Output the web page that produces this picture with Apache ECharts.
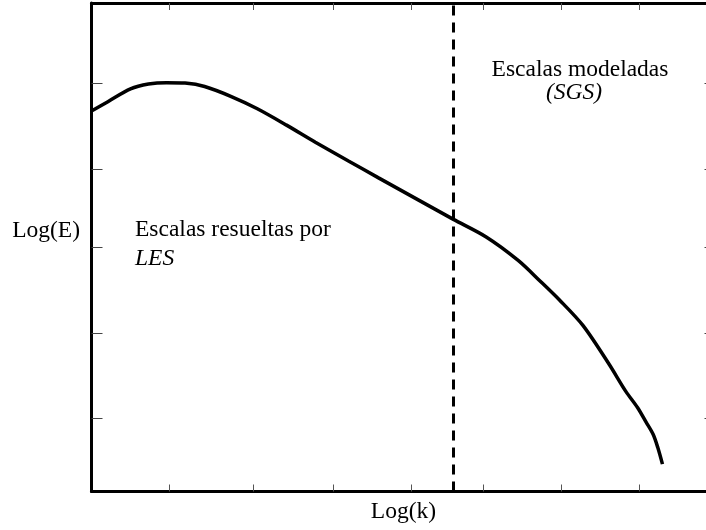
<!DOCTYPE html>
<html>
<head>
<meta charset="utf-8">
<title>Espectro de energía LES</title>
<script src="https://cdn.jsdelivr.net/npm/echarts@6/dist/echarts.min.js"></script>
<style>
  html, body { margin: 0; padding: 0; background: #fff; overflow: hidden; }
  /* the right-hand frame sits just past the visible edge */
  #chart { width: 716px; height: 530px; }
</style>
</head>
<body>
<div id="chart"></div>
<script>
// Energy spectrum in arbitrary log units: log(k) on x, log(E) on y
const logK = [0, 0.21, 0.5, 0.73, 0.96, 1.2, 1.45, 1.8, 2.12, 2.5, 2.87, 3.3, 3.68, 4.2, 4.64,
              5.06, 5.47, 5.75, 6.0, 6.3, 6.63, 6.85, 7.0, 7.11, 7.2, 7.26, 7.32];
const logE = [7.79, 7.98, 8.24, 8.34, 8.37, 8.36, 8.29, 8.08, 7.84, 7.5, 7.15, 6.76, 6.42, 5.96, 5.57,
              5.21, 4.73, 4.31, 3.92, 3.4, 2.62, 2.05, 1.72, 1.42, 1.17, 0.9, 0.56];

// Cut-off wavenumber separating resolved and modelled scales
const cutoffK = 4.64;

// Tick positions along each axis
const xTicks = [1, 2.08, 3.1, 4.1, 5.02, 6.02, 7.02];
const yTicks = [1.505, 3.245, 5.005, 6.6, 8.36];

const SERIF = "'Liberation Serif', 'Times New Roman', 'DejaVu Serif', serif";

const chart = echarts.init(document.getElementById('chart'), null, { renderer: 'canvas' });

function frameAxis(extra) {
  return Object.assign({
    type: 'value',
    axisLine: { show: true, onZero: false, lineStyle: { color: '#000', width: 3 } },
    axisLabel: { show: false },
    splitLine: { show: false }
  }, extra);
}

chart.setOption({
  animation: false,
  backgroundColor: '#fff',
  grid: { left: 91.5, top: 3, width: 624, height: 488.5, containLabel: false, outerBoundsMode: 'none' },
  xAxis: [
    frameAxis({
      position: 'bottom', min: 0, max: 8,
      axisTick: { show: true, inside: true, length: 7, customValues: xTicks,
                  lineStyle: { color: '#555', width: 1 } },
      name: 'Log(k)', nameLocation: 'middle', nameGap: 8,
      nameTextStyle: { fontFamily: SERIF, fontSize: 23.5, color: '#000' }
    }),
    frameAxis({
      position: 'top', min: 0, max: 8,
      axisTick: { show: true, inside: true, length: 7, customValues: xTicks,
                  lineStyle: { color: '#555', width: 1 } }
    })
  ],
  yAxis: [
    frameAxis({
      position: 'left', min: 0, max: 10,
      axisTick: { show: true, inside: true, length: 11, customValues: yTicks,
                  lineStyle: { color: '#444', width: 1 } }
    }),
    frameAxis({
      position: 'right', min: 0, max: 10,
      axisTick: { show: true, inside: true, length: 11, customValues: yTicks,
                  lineStyle: { color: '#444', width: 1 } }
    })
  ],
  series: [{
    type: 'line',
    xAxisIndex: 0,
    yAxisIndex: 0,
    data: logK.map((k, i) => [k, logE[i]]),
    showSymbol: false,
    smooth: 0.3,
    lineStyle: { color: '#000', width: 3.5 },
    markLine: {
      silent: true,
      symbol: 'none',
      label: { show: false },
      lineStyle: { color: '#000', width: 3, type: [10, 7] },
      data: [{ xAxis: cutoffK }]
    }
  }],
  graphic: [
    {
      // y-axis title, level with the left annotation
      type: 'text', x: 80, y: 231,
      style: { text: 'Log(E)', font: '23.5px ' + SERIF, fill: '#000',
               verticalAlign: 'middle', align: 'right' }
    },
    {
      type: 'text', x: 135, y: 230,
      style: { text: 'Escalas resueltas por', font: '23.5px ' + SERIF, fill: '#000',
               verticalAlign: 'middle', align: 'left' }
    },
    {
      type: 'text', x: 135, y: 259,
      style: { text: 'LES', font: 'italic 23.5px ' + SERIF, fill: '#000',
               verticalAlign: 'middle', align: 'left' }
    },
    {
      type: 'text', x: 580, y: 70,
      style: { text: 'Escalas modeladas', font: '23.5px ' + SERIF, fill: '#000',
               verticalAlign: 'middle', align: 'center' }
    },
    {
      type: 'text', x: 574, y: 93,
      style: { text: '(SGS)', font: 'italic 23.5px ' + SERIF, fill: '#000',
               verticalAlign: 'middle', align: 'center' }
    }
  ]
});
</script>
</body>
</html>
